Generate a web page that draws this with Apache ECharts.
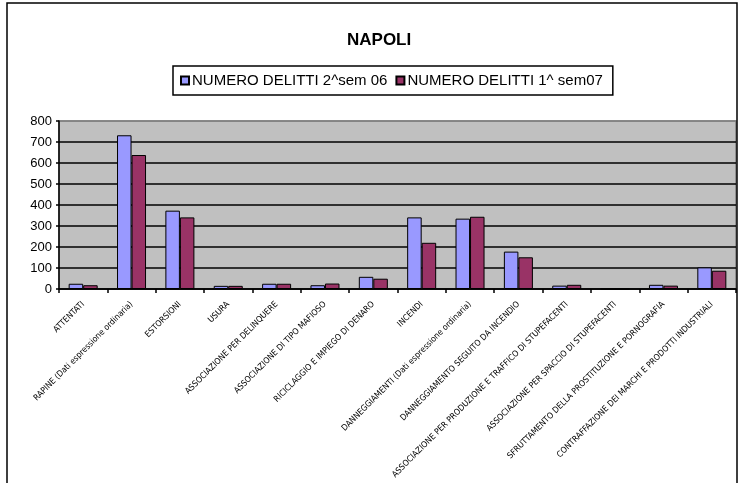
<!DOCTYPE html>
<html>
<head>
<meta charset="utf-8">
<script src="https://cdn.jsdelivr.net/npm/echarts@6/dist/echarts.min.js"></script>
<style>
html,body{margin:0;padding:0;background:#fff;}
#c{width:742px;height:483px;}
</style>
</head>
<body>
<div id="c"></div>
<script>
var categories = [
  'ATTENTATI',
  'RAPINE (Dati espressione ordinaria)',
  'ESTORSIONI',
  'USURA',
  'ASSOCIAZIONE PER DELINQUERE',
  'ASSOCIAZIONE DI TIPO MAFIOSO',
  'RICICLAGGIO E IMPIEGO DI DENARO',
  'INCENDI',
  'DANNEGGIAMENTI (Dati espressione ordinaria)',
  'DANNEGGIAMENTO SEGUITO DA INCENDIO',
  'ASSOCIAZIONE PER PRODUZIONE E TRAFFICO DI STUPEFACENTI',
  'ASSOCIAZIONE PER SPACCIO DI STUPEFACENTI',
  'SFRUTTAMENTO DELLA PROSTITUZIONE E PORNOGRAFIA',
  'CONTRAFFAZIONE DEI MARCHI E PRODOTTI INDUSTRIALI'
];
var seriesNames = ['NUMERO DELITTI 2^sem 06', 'NUMERO DELITTI 1^ sem07'];
var sem06 = [25, 732, 373, 15, 25, 18, 58, 341, 335, 178, 16, 0, 20, 103];
var sem07 = [18, 638, 341, 15, 25, 26, 49, 220, 344, 151, 20, 0, 16, 87];
var yTicks = [0, 100, 200, 300, 400, 500, 600, 700, 800];

var chart = echarts.init(document.getElementById('c'));
var font = "'Liberation Sans', Arial, sans-serif";
chart.setOption({
  animation: false,
  backgroundColor: '#fff',
  title: {
    text: 'NAPOLI',
    left: 342, top: 27,
    textStyle: {fontFamily: font, fontSize: 17, fontWeight: 'bold', color: '#000'}
  },
  legend: {
    left: 173, top: 66,
    padding: [7, 10, 7, 7],
    borderColor: '#000', borderWidth: 1.5,
    itemWidth: 8, itemHeight: 8, itemGap: 8,
    textStyle: {fontFamily: font, fontSize: 15, color: '#000', padding: [0, 0, 0, -2]},
    data: [{name: seriesNames[0], icon: 'rect'}, {name: seriesNames[1], icon: 'rect'}]
  },
  grid: {left: 59, right: 6, top: 121, bottom: 194, show: true, backgroundColor: '#C0C0C0', borderColor: '#808080', borderWidth: 1.5},
  xAxis: {
    type: 'category', data: categories,
    axisLine: {lineStyle: {color: '#000', width: 1.5}},
    axisTick: {show: true, length: 4, lineStyle: {color: '#000', width: 1.5}},
    axisLabel: {
      interval: 0, rotate: 45, margin: 14,
      fontFamily: "'Liberation Sans Narrow', 'DejaVu Sans Condensed', Arial, sans-serif",
      fontSize: 8.5, color: '#000'
    }
  },
  yAxis: {
    type: 'value', min: yTicks[0], max: yTicks[yTicks.length - 1], interval: 100,
    axisLine: {show: true, lineStyle: {color: '#000', width: 1.5}},
    axisTick: {show: true, length: 3, lineStyle: {color: '#000', width: 1.5}},
    axisLabel: {fontFamily: font, fontSize: 13, color: '#000', margin: 7},
    splitLine: {show: true, lineStyle: {color: ['#000','#000','#000','#000','#000','#000','#000','#000','#808080'], width: 1.5}}
  },
  series: [
    {name: seriesNames[0], type: 'bar', data: sem06, barGap: '0%', barCategoryGap: '40%',
     itemStyle: {color: '#9999FF', borderColor: '#000', borderWidth: 1}},
    {name: seriesNames[1], type: 'bar', data: sem07, barGap: '0%', barCategoryGap: '40%',
     itemStyle: {color: '#993366', borderColor: '#000', borderWidth: 1}}
  ],
  graphic: [{
    type: 'rect', silent: true, z: 100,
    shape: {x: 7, y: 3, width: 730, height: 490},
    style: {fill: 'none', stroke: '#000', lineWidth: 1.5}
  }]
});
</script>
</body>
</html>
